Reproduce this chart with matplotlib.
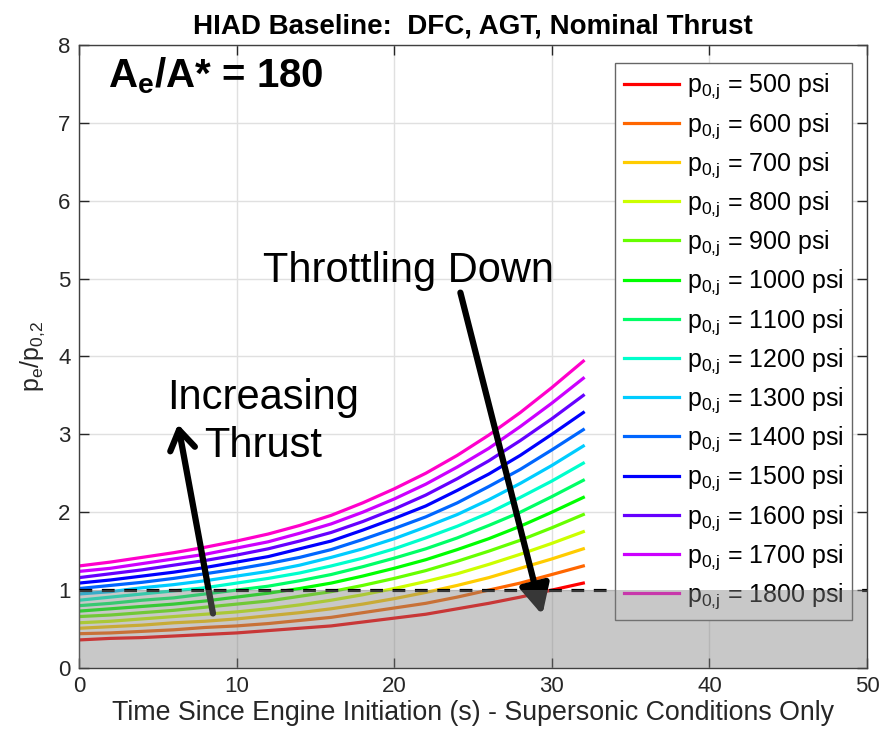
import colorsys
import numpy as np
import matplotlib
matplotlib.use("Agg")
from matplotlib import pyplot as plt

plt.rcParams['font.family'] = ['Liberation Sans', 'DejaVu Sans']
plt.rcParams['mathtext.fontset'] = 'custom'
plt.rcParams['mathtext.rm'] = 'Liberation Sans'
plt.rcParams['mathtext.it'] = 'Liberation Sans:italic'
plt.rcParams['mathtext.bf'] = 'Liberation Sans:bold'

# time points (s)
time_s = [0, 2, 4, 6, 8, 10, 12, 14, 16, 18, 20, 22, 24, 26, 28, 30, 32]

# chamber pressure cases (psi)
pressures = [500, 600, 700, 800, 900, 1000, 1100, 1200, 1300, 1400, 1500, 1600, 1700, 1800]

# p_e / p_0,2 for each pressure case
ratio_500 = [0.36, 0.38, 0.39, 0.41, 0.43, 0.45, 0.48, 0.51, 0.54, 0.59, 0.64, 0.69, 0.76, 0.83, 0.91, 1.00, 1.09]
ratio_600 = [0.44, 0.45, 0.47, 0.49, 0.52, 0.54, 0.57, 0.61, 0.65, 0.71, 0.77, 0.83, 0.91, 1.00, 1.09, 1.20, 1.31]
ratio_700 = [0.51, 0.53, 0.55, 0.58, 0.60, 0.63, 0.67, 0.71, 0.76, 0.82, 0.89, 0.97, 1.06, 1.16, 1.28, 1.40, 1.53]
ratio_800 = [0.58, 0.60, 0.63, 0.66, 0.69, 0.72, 0.76, 0.81, 0.87, 0.94, 1.02, 1.11, 1.21, 1.33, 1.46, 1.60, 1.75]
ratio_900 = [0.66, 0.68, 0.71, 0.74, 0.78, 0.82, 0.86, 0.92, 0.98, 1.06, 1.15, 1.25, 1.37, 1.50, 1.64, 1.80, 1.97]
ratio_1000 = [0.73, 0.76, 0.79, 0.82, 0.86, 0.91, 0.96, 1.02, 1.09, 1.18, 1.28, 1.39, 1.52, 1.66, 1.82, 2.00, 2.19]
ratio_1100 = [0.80, 0.83, 0.87, 0.90, 0.95, 1.00, 1.05, 1.12, 1.20, 1.30, 1.41, 1.53, 1.67, 1.83, 2.00, 2.20, 2.41]
ratio_1200 = [0.87, 0.91, 0.95, 0.99, 1.03, 1.09, 1.15, 1.22, 1.31, 1.41, 1.53, 1.67, 1.82, 1.99, 2.19, 2.40, 2.63]
ratio_1300 = [0.95, 0.98, 1.03, 1.07, 1.12, 1.18, 1.24, 1.32, 1.42, 1.53, 1.66, 1.81, 1.97, 2.16, 2.37, 2.60, 2.85]
ratio_1400 = [1.02, 1.06, 1.10, 1.15, 1.21, 1.27, 1.34, 1.42, 1.52, 1.65, 1.79, 1.94, 2.12, 2.33, 2.55, 2.80, 3.06]
ratio_1500 = [1.09, 1.13, 1.18, 1.23, 1.29, 1.36, 1.43, 1.53, 1.63, 1.77, 1.92, 2.08, 2.28, 2.49, 2.73, 3.00, 3.28]
ratio_1600 = [1.16, 1.21, 1.26, 1.32, 1.38, 1.45, 1.53, 1.63, 1.74, 1.88, 2.04, 2.22, 2.43, 2.66, 2.92, 3.20, 3.50]
ratio_1700 = [1.24, 1.28, 1.34, 1.40, 1.46, 1.54, 1.62, 1.73, 1.85, 2.00, 2.17, 2.36, 2.58, 2.82, 3.10, 3.40, 3.72]
ratio_1800 = [1.31, 1.36, 1.42, 1.48, 1.55, 1.63, 1.72, 1.83, 1.96, 2.12, 2.30, 2.50, 2.73, 2.99, 3.28, 3.60, 3.94]

all_ratios = [ratio_500, ratio_600, ratio_700, ratio_800, ratio_900, ratio_1000,
              ratio_1100, ratio_1200, ratio_1300, ratio_1400, ratio_1500,
              ratio_1600, ratio_1700, ratio_1800]

x_ticks = [0, 10, 20, 30, 40, 50]
y_ticks = [0, 1, 2, 3, 4, 5, 6, 7, 8]

# MATLAB-like hsv(15) colour order
colors = [colorsys.hsv_to_rgb(i / 15, 1, 1) for i in range(len(pressures))]

fig = plt.figure(figsize=(8.96, 7.35), dpi=100)
ax = fig.add_axes([0.0882, 0.0912, 0.8794, 0.8476])

for p, vals, c in zip(pressures, all_ratios, colors):
    ax.plot(time_s, vals, color=c, lw=2.3, zorder=2,
            label=r'$\mathregular{p_{0{,}j}}$ = %d psi' % p)

ax.plot([0, 50], [1, 1], 'k--', lw=2.3, dashes=(4, 3), zorder=3)

# arrows
ax.annotate('', xy=(6.28, 3.13), xytext=(8.5, 0.70),
            arrowprops=dict(arrowstyle='->,head_length=0.7,head_width=0.45',
                            lw=4.5, color='k', shrinkA=0, shrinkB=0,
                            mutation_scale=20),
            zorder=4)
ax.annotate('', xy=(29.4, 0.68), xytext=(24.2, 4.82),
            arrowprops=dict(arrowstyle='-|>,head_length=0.9,head_width=0.45',
                            lw=4.5, color='k', shrinkA=0, shrinkB=0,
                            mutation_scale=20),
            zorder=4)

ax.text(11.7, 3.16, 'Increasing\nThrust', fontsize=30, ha='center', va='center',
        linespacing=1.25, zorder=4)
ax.text(20.9, 4.95, 'Throttling Down', fontsize=30, ha='center', va='baseline',
        zorder=4)
ax.text(1.84, 7.45, r'$\mathbf{A_e}$/A* = 180', fontsize=29, fontweight='bold',
        ha='left', va='baseline', zorder=4)

leg = ax.legend(loc='upper right', bbox_to_anchor=(0.981, 0.971), borderaxespad=0,
                fontsize=18, frameon=True, fancybox=False, framealpha=1,
                edgecolor='0.4', handlelength=2.2, handletextpad=0.3,
                labelspacing=0.38, borderpad=0.35)
leg.set_zorder(5)
leg.get_frame().set_linewidth(1.0)

# shaded region p_e/p_0,2 < 1
ax.axhspan(0, 1, color='0.5', alpha=0.43, lw=0, zorder=6)

ax.set_xlim(0, 50)
ax.set_ylim(0, 8)
ax.set_xticks(x_ticks)
ax.set_yticks(y_ticks)
ax.grid(True, color='0.88', lw=1)
ax.set_axisbelow(True)
ax.tick_params(direction='in', length=7, width=1, top=True, right=True,
               labelsize=16, colors='0.15', pad=6)
for s in ax.spines.values():
    s.set_color('0.25')
    s.set_linewidth(1.0)

ax.set_xlabel('Time Since Engine Initiation (s) - Supersonic Conditions Only',
              fontsize=19.3, color='0.15', labelpad=2)
ax.set_ylabel(r'$\mathregular{p_e/p_{0{,}2}}$', fontsize=18, color='0.15', labelpad=8)
ax.set_title('HIAD Baseline:  DFC, AGT, Nominal Thrust', fontsize=20,
             fontweight='bold', pad=8)

fig.savefig('out.png', dpi=100)
